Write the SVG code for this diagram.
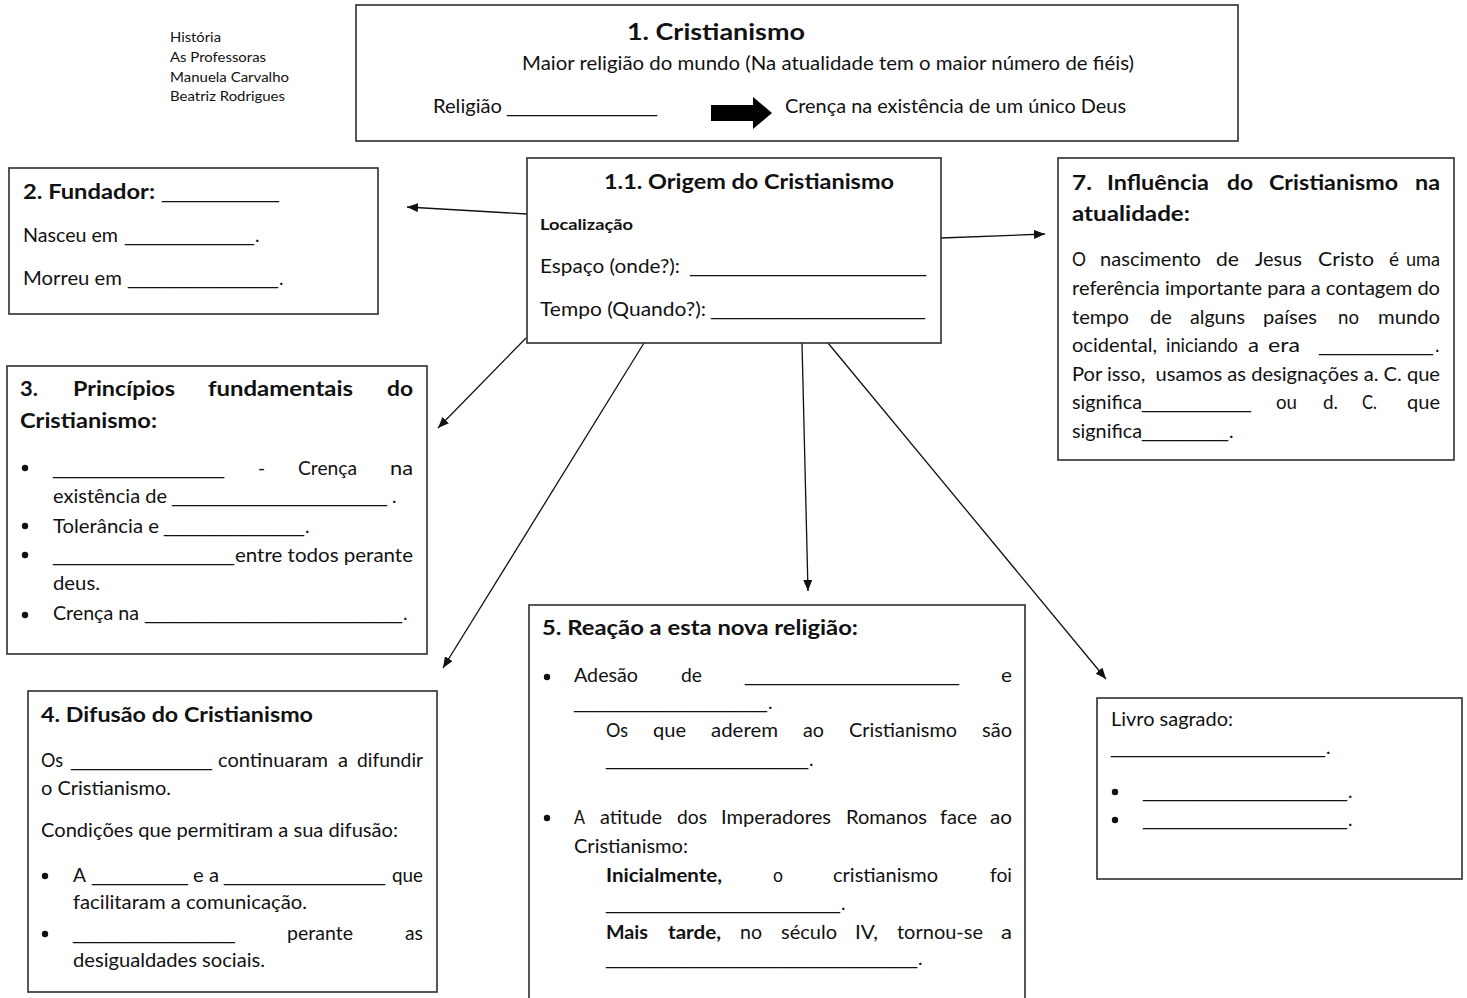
<svg xmlns="http://www.w3.org/2000/svg" width="1467" height="998" viewBox="0 0 1467 998">
<style>
text{font-family:Lato,"Open Sans","Liberation Sans",sans-serif;fill:#111;font-size:19px}
text.u{font-family:"Liberation Sans",Arial,sans-serif;font-size:17px}
.bd{font-weight:700}
.h{font-size:20.5px;font-weight:700}
.h1{font-size:23px;font-weight:700}
.sm{font-size:12.5px}
.loc{font-size:15px;font-weight:700}
.end{text-anchor:end}
.box{fill:#fff;stroke:#3a3a3a;stroke-width:1.7}
.con{stroke:#111;stroke-width:1.3;fill:none;marker-end:url(#ah)}
.dot{fill:#111}
</style>
<defs>
<marker id="ah" markerUnits="userSpaceOnUse" markerWidth="11" markerHeight="9" refX="11" refY="4.5" orient="auto">
<path d="M0,0 L11,4.5 L0,9 z" fill="#111"/>
</marker>
</defs>
<rect width="1467" height="998" fill="#fff"/>

<g id="authors">
<text class="sm" x="170" y="42" textLength="51" lengthAdjust="spacingAndGlyphs">História</text>
<text class="sm" x="170" y="62" textLength="96" lengthAdjust="spacingAndGlyphs">As Professoras</text>
<text class="sm" x="170" y="82" textLength="119" lengthAdjust="spacingAndGlyphs">Manuela Carvalho</text>
<text class="sm" x="170" y="101" textLength="115" lengthAdjust="spacingAndGlyphs">Beatriz Rodrigues</text>
</g>

<g id="connectors">
<line class="con" x1="527" y1="214" x2="407" y2="207"/>
<line class="con" x1="941" y1="238" x2="1045" y2="234"/>
<line class="con" x1="526" y1="338" x2="438" y2="428"/>
<line class="con" x1="644" y1="343" x2="443" y2="668"/>
<line class="con" x1="802" y1="343" x2="808" y2="591"/>
<line class="con" x1="828" y1="343" x2="1106" y2="679"/>
</g>

<g id="n1">
<rect class="box" x="356" y="5" width="882" height="136"/>
<text class="h1" x="627" y="40" textLength="178" lengthAdjust="spacingAndGlyphs">1. Cristianismo</text>
<text x="522" y="70" textLength="612" lengthAdjust="spacingAndGlyphs">Maior religião do mundo (Na atualidade tem o maior número de fiéis)</text>
<text x="433" y="113" textLength="69" lengthAdjust="spacingAndGlyphs">Religião</text>
<text class="u" x="507" y="113" textLength="150" lengthAdjust="spacingAndGlyphs">_______________</text>
<polygon points="711,105 753,105 753,97 772,113 753,129 753,121 711,121" fill="#000"/>
<text x="785" y="113" textLength="341" lengthAdjust="spacingAndGlyphs">Crença na existência de um único Deus</text>
</g>

<g id="n2">
<rect class="box" x="9" y="168" width="369" height="146"/>
<text class="h" x="23" y="199" textLength="132" lengthAdjust="spacingAndGlyphs">2. Fundador:</text>
<text class="u" x="162" y="199" textLength="117" lengthAdjust="spacingAndGlyphs">___________</text>
<text x="23" y="242" textLength="95" lengthAdjust="spacingAndGlyphs">Nasceu em</text>
<text class="u" x="125" y="242" textLength="129" lengthAdjust="spacingAndGlyphs">_____________</text>
<text x="255" y="242">.</text>
<text x="23" y="285" textLength="99" lengthAdjust="spacingAndGlyphs">Morreu em</text>
<text class="u" x="128" y="285" textLength="150" lengthAdjust="spacingAndGlyphs">______________</text>
<text x="279" y="285">.</text>
</g>

<g id="n11">
<rect class="box" x="527" y="158" width="414" height="185"/>
<text class="h" x="604" y="189" textLength="290" lengthAdjust="spacingAndGlyphs">1.1. Origem do Cristianismo</text>
<text class="loc" x="540" y="230" textLength="93" lengthAdjust="spacingAndGlyphs">Localização</text>
<text x="540" y="273" textLength="140" lengthAdjust="spacingAndGlyphs">Espaço (onde?):</text>
<text class="u" x="690" y="273" textLength="236" lengthAdjust="spacingAndGlyphs">________________________</text>
<text x="540" y="316" textLength="166" lengthAdjust="spacingAndGlyphs">Tempo (Quando?):</text>
<text class="u" x="711" y="316" textLength="214" lengthAdjust="spacingAndGlyphs">______________________</text>
</g>

<g id="n7">
<rect class="box" x="1058" y="158" width="396" height="302"/>
<text class="h" x="1072" y="190" textLength="20" lengthAdjust="spacingAndGlyphs">7.</text>
<text class="h" x="1107" y="190" textLength="102" lengthAdjust="spacingAndGlyphs">Influência</text>
<text class="h" x="1227" y="190" textLength="26" lengthAdjust="spacingAndGlyphs">do</text>
<text class="h" x="1269" y="190" textLength="129" lengthAdjust="spacingAndGlyphs">Cristianismo</text>
<text class="h" x="1415" y="190" textLength="25" lengthAdjust="spacingAndGlyphs">na</text>
<text class="h" x="1072" y="221" textLength="118" lengthAdjust="spacingAndGlyphs">atualidade:</text>
<text x="1072" y="266" textLength="14" lengthAdjust="spacingAndGlyphs">O</text>
<text x="1100" y="266" textLength="101" lengthAdjust="spacingAndGlyphs">nascimento</text>
<text x="1216" y="266" textLength="23" lengthAdjust="spacingAndGlyphs">de</text>
<text x="1255" y="266" textLength="47" lengthAdjust="spacingAndGlyphs">Jesus</text>
<text x="1318" y="266" textLength="56" lengthAdjust="spacingAndGlyphs">Cristo</text>
<text x="1389" y="266">é</text>
<text x="1406" y="266" textLength="34" lengthAdjust="spacingAndGlyphs">uma</text>
<text x="1072" y="295" textLength="368" lengthAdjust="spacingAndGlyphs">referência importante para a contagem do</text>
<text x="1072" y="324" textLength="57" lengthAdjust="spacingAndGlyphs">tempo</text>
<text x="1150" y="324" textLength="22" lengthAdjust="spacingAndGlyphs">de</text>
<text x="1190" y="324" textLength="55" lengthAdjust="spacingAndGlyphs">alguns</text>
<text x="1263" y="324" textLength="54" lengthAdjust="spacingAndGlyphs">países</text>
<text x="1338" y="324" textLength="21" lengthAdjust="spacingAndGlyphs">no</text>
<text x="1378" y="324" textLength="62" lengthAdjust="spacingAndGlyphs">mundo</text>
<text x="1072" y="352" textLength="85" lengthAdjust="spacingAndGlyphs">ocidental,</text>
<text x="1166" y="352" textLength="72" lengthAdjust="spacingAndGlyphs">iniciando</text>
<text x="1248" y="352" textLength="11" lengthAdjust="spacingAndGlyphs">a</text>
<text x="1268" y="352" textLength="32" lengthAdjust="spacingAndGlyphs">era</text>
<text class="u" x="1319" y="352" textLength="114" lengthAdjust="spacingAndGlyphs">___________</text>
<text x="1435" y="352">.</text>
<text x="1072" y="381" xml:space="preserve" textLength="368" lengthAdjust="spacingAndGlyphs">Por isso,  usamos as designações a. C. que</text>
<text x="1072" y="409" textLength="70" lengthAdjust="spacingAndGlyphs">significa</text>
<text class="u" x="1142" y="409" textLength="109" lengthAdjust="spacingAndGlyphs">__________</text>
<text x="1276" y="409" textLength="21" lengthAdjust="spacingAndGlyphs">ou</text>
<text x="1323" y="409" textLength="15" lengthAdjust="spacingAndGlyphs">d.</text>
<text x="1362" y="409" textLength="15" lengthAdjust="spacingAndGlyphs">C.</text>
<text x="1407" y="409" textLength="33" lengthAdjust="spacingAndGlyphs">que</text>
<text x="1072" y="438" textLength="70" lengthAdjust="spacingAndGlyphs">significa</text>
<text class="u" x="1142" y="438" textLength="86" lengthAdjust="spacingAndGlyphs">________</text>
<text x="1229" y="438">.</text>
</g>

<g id="n3">
<rect class="box" x="7" y="366" width="420" height="288"/>
<text class="h" x="20" y="396" textLength="18" lengthAdjust="spacingAndGlyphs">3.</text>
<text class="h" x="73" y="396" textLength="102" lengthAdjust="spacingAndGlyphs">Princípios</text>
<text class="h" x="208" y="396" textLength="145" lengthAdjust="spacingAndGlyphs">fundamentais</text>
<text class="h" x="387" y="396" textLength="26" lengthAdjust="spacingAndGlyphs">do</text>
<text class="h" x="20" y="428" textLength="137" lengthAdjust="spacingAndGlyphs">Cristianismo:</text>
<circle class="dot" cx="25" cy="468" r="3.2"/>
<circle class="dot" cx="25" cy="526" r="3.2"/>
<circle class="dot" cx="25" cy="555" r="3.2"/>
<circle class="dot" cx="25" cy="615" r="3.2"/>
<text class="u" x="53" y="475" textLength="171" lengthAdjust="spacingAndGlyphs">_________________</text>
<text x="258" y="475">-</text>
<text x="298" y="475" textLength="59" lengthAdjust="spacingAndGlyphs">Crença</text>
<text x="390" y="475" textLength="23" lengthAdjust="spacingAndGlyphs">na</text>
<text x="53" y="503" textLength="114" lengthAdjust="spacingAndGlyphs">existência de</text>
<text class="u" x="172" y="503" textLength="215" lengthAdjust="spacingAndGlyphs">____________________</text>
<text x="392" y="503">.</text>
<text x="53" y="533" textLength="106" lengthAdjust="spacingAndGlyphs">Tolerância e</text>
<text class="u" x="164" y="533" textLength="140" lengthAdjust="spacingAndGlyphs">_____________</text>
<text x="305" y="533">.</text>
<text class="u" x="53" y="562" textLength="181" lengthAdjust="spacingAndGlyphs">__________________</text>
<text x="235" y="562" textLength="178" lengthAdjust="spacingAndGlyphs">entre todos perante</text>
<text x="53" y="590" textLength="47" lengthAdjust="spacingAndGlyphs">deus.</text>
<text x="53" y="620" textLength="86" lengthAdjust="spacingAndGlyphs">Crença na</text>
<text class="u" x="145" y="620" textLength="257" lengthAdjust="spacingAndGlyphs">_________________________</text>
<text x="403" y="620">.</text>
</g>

<g id="n4">
<rect class="box" x="28" y="691" width="409" height="301"/>
<text class="h" x="41" y="722" textLength="272" lengthAdjust="spacingAndGlyphs">4. Difusão do Cristianismo</text>
<text x="41" y="767" textLength="22" lengthAdjust="spacingAndGlyphs">Os</text>
<text class="u" x="71" y="767" textLength="141" lengthAdjust="spacingAndGlyphs">______________</text>
<text x="218" y="767" textLength="110" lengthAdjust="spacingAndGlyphs">continuaram</text>
<text x="338" y="767" textLength="10" lengthAdjust="spacingAndGlyphs">a</text>
<text x="357" y="767" textLength="66" lengthAdjust="spacingAndGlyphs">difundir</text>
<text x="41" y="795" textLength="130" lengthAdjust="spacingAndGlyphs">o Cristianismo.</text>
<text x="41" y="837" textLength="357" lengthAdjust="spacingAndGlyphs">Condições que permitiram a sua difusão:</text>
<circle class="dot" cx="45" cy="876" r="3.2"/>
<circle class="dot" cx="45" cy="934" r="3.2"/>
<text x="73" y="882" textLength="13" lengthAdjust="spacingAndGlyphs">A</text>
<text class="u" x="92" y="882" textLength="96" lengthAdjust="spacingAndGlyphs">_________</text>
<text x="193" y="882" textLength="26" lengthAdjust="spacingAndGlyphs">e a</text>
<text class="u" x="224" y="882" textLength="161" lengthAdjust="spacingAndGlyphs">________________</text>
<text x="392" y="882" textLength="31" lengthAdjust="spacingAndGlyphs">que</text>
<text x="73" y="909" textLength="234" lengthAdjust="spacingAndGlyphs">facilitaram a comunicação.</text>
<text class="u" x="73" y="940" textLength="162" lengthAdjust="spacingAndGlyphs">________________</text>
<text x="287" y="940" textLength="66" lengthAdjust="spacingAndGlyphs">perante</text>
<text x="405" y="940" textLength="18" lengthAdjust="spacingAndGlyphs">as</text>
<text x="73" y="967" textLength="192" lengthAdjust="spacingAndGlyphs">desigualdades sociais.</text>
</g>

<g id="n5">
<rect class="box" x="529" y="605" width="496" height="400"/>
<text class="h" x="542" y="635" textLength="316" lengthAdjust="spacingAndGlyphs">5. Reação a esta nova religião:</text>
<circle class="dot" cx="547" cy="677" r="3.2"/>
<circle class="dot" cx="547" cy="818" r="3.2"/>
<text x="574" y="682" textLength="64" lengthAdjust="spacingAndGlyphs">Adesão</text>
<text x="681" y="682" textLength="21" lengthAdjust="spacingAndGlyphs">de</text>
<text class="u" x="745" y="682" textLength="214" lengthAdjust="spacingAndGlyphs">___________________</text>
<text x="1001" y="682" textLength="11" lengthAdjust="spacingAndGlyphs">e</text>
<text class="u" x="574" y="709" textLength="193" lengthAdjust="spacingAndGlyphs">___________________</text>
<text x="768" y="709">.</text>
<text x="606" y="737" textLength="22" lengthAdjust="spacingAndGlyphs">Os</text>
<text x="653" y="737" textLength="33" lengthAdjust="spacingAndGlyphs">que</text>
<text x="711" y="737" textLength="67" lengthAdjust="spacingAndGlyphs">aderem</text>
<text x="803" y="737" textLength="21" lengthAdjust="spacingAndGlyphs">ao</text>
<text x="849" y="737" textLength="108" lengthAdjust="spacingAndGlyphs">Cristianismo</text>
<text x="982" y="737" textLength="30" lengthAdjust="spacingAndGlyphs">são</text>
<text class="u" x="606" y="766" textLength="202" lengthAdjust="spacingAndGlyphs">____________________</text>
<text x="809" y="766">.</text>
<text x="574" y="824" textLength="11" lengthAdjust="spacingAndGlyphs">A</text>
<text x="600" y="824" textLength="62" lengthAdjust="spacingAndGlyphs">atitude</text>
<text x="677" y="824" textLength="30" lengthAdjust="spacingAndGlyphs">dos</text>
<text x="721" y="824" textLength="110" lengthAdjust="spacingAndGlyphs">Imperadores</text>
<text x="846" y="824" textLength="81" lengthAdjust="spacingAndGlyphs">Romanos</text>
<text x="940" y="824" textLength="37" lengthAdjust="spacingAndGlyphs">face</text>
<text x="990" y="824" textLength="22" lengthAdjust="spacingAndGlyphs">ao</text>
<text x="574" y="853" textLength="114" lengthAdjust="spacingAndGlyphs">Cristianismo:</text>
<text class="bd" x="606" y="882" textLength="116" lengthAdjust="spacingAndGlyphs">Inicialmente,</text>
<text x="773" y="882" textLength="10" lengthAdjust="spacingAndGlyphs">o</text>
<text x="833" y="882" textLength="105" lengthAdjust="spacingAndGlyphs">cristianismo</text>
<text x="990" y="882" textLength="22" lengthAdjust="spacingAndGlyphs">foi</text>
<text class="u" x="606" y="910" textLength="234" lengthAdjust="spacingAndGlyphs">_______________________</text>
<text x="841" y="910">.</text>
<text class="bd" x="606" y="939" textLength="42" lengthAdjust="spacingAndGlyphs">Mais</text>
<text class="bd" x="668" y="939" textLength="53" lengthAdjust="spacingAndGlyphs">tarde,</text>
<text x="740" y="939" textLength="22" lengthAdjust="spacingAndGlyphs">no</text>
<text x="781" y="939" textLength="56" lengthAdjust="spacingAndGlyphs">século</text>
<text x="855" y="939" textLength="23" lengthAdjust="spacingAndGlyphs">IV,</text>
<text x="897" y="939" textLength="86" lengthAdjust="spacingAndGlyphs">tornou-se</text>
<text x="1001" y="939" textLength="11" lengthAdjust="spacingAndGlyphs">a</text>
<text class="u" x="606" y="965" textLength="311" lengthAdjust="spacingAndGlyphs">______________________________</text>
<text x="918" y="965">.</text>
</g>

<g id="n6">
<rect class="box" x="1097" y="698" width="365" height="181"/>
<text x="1111" y="726" textLength="122" lengthAdjust="spacingAndGlyphs">Livro sagrado:</text>
<text class="u" x="1111" y="754" textLength="214" lengthAdjust="spacingAndGlyphs">____________________</text>
<text x="1326" y="754">.</text>
<circle class="dot" cx="1115" cy="792" r="3.2"/>
<circle class="dot" cx="1115" cy="820" r="3.2"/>
<text class="u" x="1143" y="798" textLength="204" lengthAdjust="spacingAndGlyphs">_____________________</text>
<text x="1348" y="798">.</text>
<text class="u" x="1143" y="826" textLength="204" lengthAdjust="spacingAndGlyphs">_____________________</text>
<text x="1348" y="826">.</text>
</g>
</svg>
